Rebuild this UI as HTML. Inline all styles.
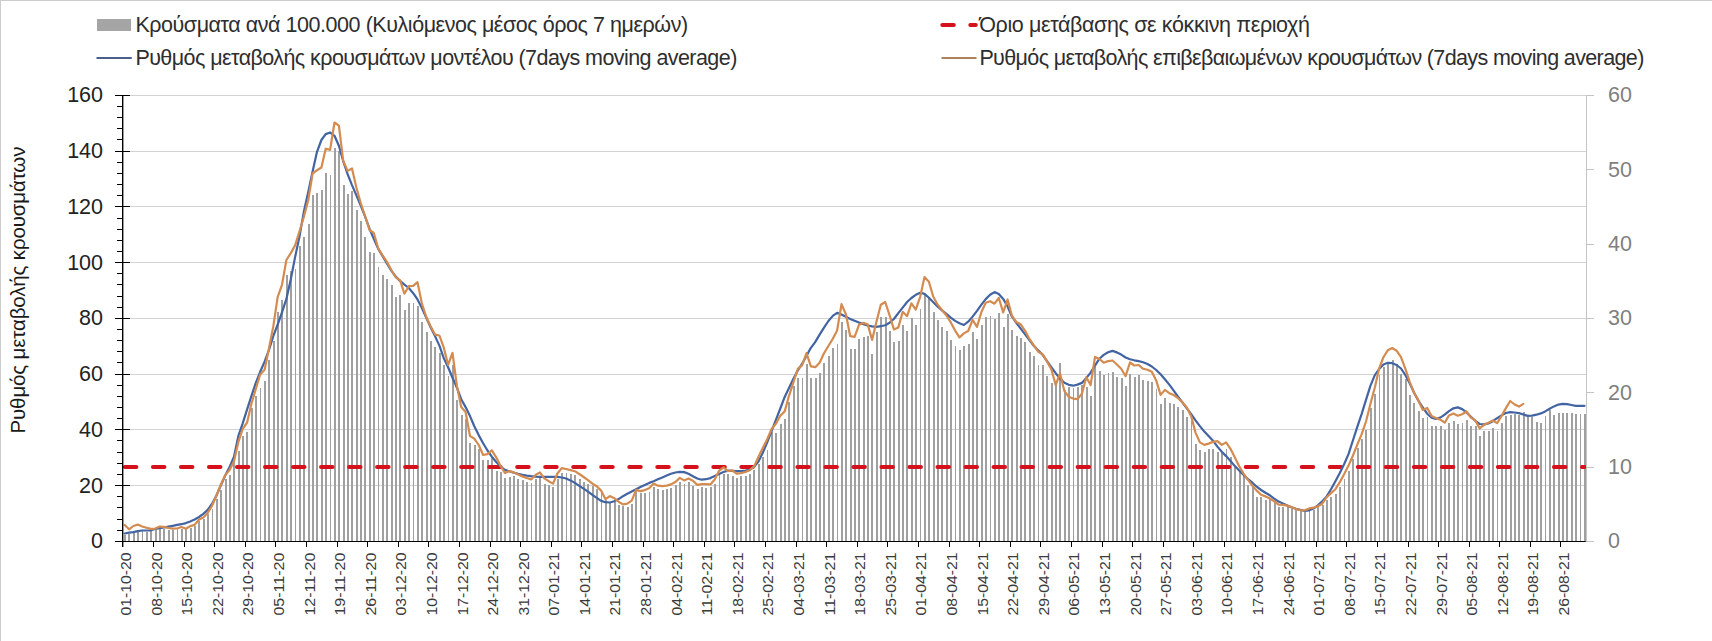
<!DOCTYPE html><html><head><meta charset="utf-8"><title>Chart</title><style>
html,body{margin:0;padding:0;background:#fff;width:1712px;height:641px;overflow:hidden}
svg{display:block}text{font-family:'Liberation Sans', 'DejaVu Sans', Arial, sans-serif}
</style></head><body>
<svg width="1712" height="641" viewBox="0 0 1712 641">
<rect x="0" y="0" width="1712" height="641" fill="#fff"/>
<rect x="0" y="0" width="1712" height="1" fill="#cccccc"/>
<rect x="0" y="0" width="1" height="641" fill="#cccccc"/>
<path d="M122.5 485.5H1586.4M122.5 429.5H1586.4M122.5 374.5H1586.4M122.5 318.5H1586.4M122.5 262.5H1586.4M122.5 206.5H1586.4M122.5 151.5H1586.4M122.5 95.5H1586.4" stroke="#d3d3d3" stroke-width="1" fill="none" shape-rendering="crispEdges"/>
<path d="M124 535H126V541H124zM128 534H130V541H128zM133 533H135V541H133zM137 531H139V541H137zM142 530H143V541H142zM146 532H148V541H146zM150 531H152V541H150zM155 530H157V541H155zM159 529H161V541H159zM163 529H165V541H163zM168 530H170V541H168zM172 530H174V541H172zM177 529H178V541H177zM181 529H183V541H181zM185 529H187V541H185zM190 528H192V541H190zM194 526H196V541H194zM198 521H200V541H198zM203 519H205V541H203zM207 514H209V541H207zM212 509H213V541H212zM216 499H218V541H216zM220 490H222V541H220zM225 479H227V541H225zM229 475H231V541H229zM233 462H235V541H233zM238 451H240V541H238zM242 436H244V541H242zM246 432H248V541H246zM251 408H253V541H251zM255 396H257V541H255zM260 388H261V541H260zM264 381H266V541H264zM268 360H270V541H268zM273 341H275V541H273zM277 312H279V541H277zM281 300H283V541H281zM286 275H288V541H286zM290 271H292V541H290zM295 269H296V541H295zM299 246H301V541H299zM303 237H305V541H303zM308 224H310V541H308zM312 195H314V541H312zM316 193H318V541H316zM321 190H323V541H321zM325 173H327V541H325zM330 175H331V541H330zM334 148H336V541H334zM338 151H340V541H338zM343 185H345V541H343zM347 194H349V541H347zM351 191H353V541H351zM356 210H358V541H356zM360 221H362V541H360zM364 237H366V541H364zM369 252H371V541H369zM373 253H375V541H373zM378 267H379V541H378zM382 275H384V541H382zM386 279H388V541H386zM391 285H393V541H391zM395 297H397V541H395zM399 295H401V541H399zM404 310H406V541H404zM408 303H410V541H408zM413 303H414V541H413zM417 306H419V541H417zM421 322H423V541H421zM426 332H428V541H426zM430 341H432V541H430zM434 347H436V541H434zM439 353H441V541H439zM443 365H445V541H443zM448 376H449V541H448zM452 365H454V541H452zM456 400H458V541H456zM461 415H463V541H461zM465 419H467V541H465zM469 443H471V541H469zM474 445H476V541H474zM478 449H480V541H478zM482 460H484V541H482zM487 460H489V541H487zM491 457H493V541H491zM496 471H498V541H496zM500 472H502V541H500zM504 478H506V541H504zM509 477H511V541H509zM513 476H515V541H513zM517 479H519V541H517zM522 480H524V541H522zM526 482H528V541H526zM531 483H532V541H531zM535 479H537V541H535zM539 477H541V541H539zM544 484H546V541H544zM548 485H550V541H548zM552 487H554V541H552zM557 479H559V541H557zM561 473H563V541H561zM566 473H567V541H566zM570 474H572V541H570zM574 475H576V541H574zM579 479H581V541H579zM583 482H585V541H583zM587 484H589V541H587zM592 486H594V541H592zM596 489H598V541H596zM601 491H602V541H601zM605 500H607V541H605zM609 502H611V541H609zM614 502H616V541H614zM618 505H620V541H618zM622 506H624V541H622zM627 507H629V541H627zM631 504H633V541H631zM635 491H637V541H635zM640 493H642V541H640zM644 493H646V541H644zM649 492H650V541H649zM653 487H655V541H653zM657 489H659V541H657zM662 490H664V541H662zM666 489H668V541H666zM670 488H672V541H670zM675 485H677V541H675zM679 482H681V541H679zM684 484H685V541H684zM688 482H690V541H688zM692 486H694V541H692zM697 489H699V541H697zM701 487H703V541H701zM705 488H707V541H705zM710 487H712V541H710zM714 484H716V541H714zM719 475H720V541H719zM723 474H725V541H723zM727 474H729V541H727zM732 476H734V541H732zM736 478H738V541H736zM740 476H742V541H740zM745 476H747V541H745zM749 474H751V541H749zM753 470H755V541H753zM758 464H760V541H758zM762 457H764V541H762zM767 450H768V541H767zM771 432H773V541H771zM775 433H777V541H775zM780 424H782V541H780zM784 419H786V541H784zM788 402H790V541H788zM793 386H795V541H793zM797 378H799V541H797zM802 378H803V541H802zM806 364H808V541H806zM810 378H812V541H810zM815 378H817V541H815zM819 373H821V541H819zM823 363H825V541H823zM828 356H830V541H828zM832 348H834V541H832zM837 344H838V541H837zM841 322H843V541H841zM845 330H847V541H845zM850 349H852V541H850zM854 349H856V541H854zM858 339H860V541H858zM863 337H865V541H863zM867 336H869V541H867zM871 354H873V541H871zM876 332H878V541H876zM880 317H882V541H880zM885 317H887V541H885zM889 331H891V541H889zM893 342H895V541H893zM898 341H900V541H898zM902 325H904V541H902zM906 331H908V541H906zM911 318H913V541H911zM915 325H917V541H915zM920 309H921V541H920zM924 295H926V541H924zM928 297H930V541H928zM933 312H935V541H933zM937 320H939V541H937zM941 327H943V541H941zM946 331H948V541H946zM950 340H952V541H950zM955 346H956V541H955zM959 350H961V541H959zM963 346H965V541H963zM968 344H970V541H968zM972 332H974V541H972zM976 339H978V541H976zM981 325H983V541H981zM985 317H987V541H985zM990 316H991V541H990zM994 319H996V541H994zM998 313H1000V541H998zM1003 327H1005V541H1003zM1007 314H1009V541H1007zM1011 330H1013V541H1011zM1016 336H1018V541H1016zM1020 338H1022V541H1020zM1024 342H1026V541H1024zM1029 352H1031V541H1029zM1033 356H1035V541H1033zM1038 365H1039V541H1038zM1042 365H1044V541H1042zM1046 376H1048V541H1046zM1051 383H1053V541H1051zM1055 384H1057V541H1055zM1059 363H1061V541H1059zM1064 390H1066V541H1064zM1068 387H1070V541H1068zM1073 388H1074V541H1073zM1077 387H1079V541H1077zM1081 385H1083V541H1081zM1086 387H1088V541H1086zM1090 396H1092V541H1090zM1094 367H1096V541H1094zM1099 371H1101V541H1099zM1103 375H1105V541H1103zM1108 373H1109V541H1108zM1112 372H1114V541H1112zM1116 377H1118V541H1116zM1121 378H1123V541H1121zM1125 386H1127V541H1125zM1129 374H1131V541H1129zM1134 377H1136V541H1134zM1138 375H1140V541H1138zM1142 380H1144V541H1142zM1147 381H1149V541H1147zM1151 382H1153V541H1151zM1156 389H1157V541H1156zM1160 404H1162V541H1160zM1164 398H1166V541H1164zM1169 403H1171V541H1169zM1173 404H1175V541H1173zM1177 407H1179V541H1177zM1182 410H1184V541H1182zM1186 417H1188V541H1186zM1191 421H1192V541H1191zM1195 444H1197V541H1195zM1199 450H1201V541H1199zM1204 452H1206V541H1204zM1208 449H1210V541H1208zM1212 449H1214V541H1212zM1217 452H1219V541H1217zM1221 452H1223V541H1221zM1226 449H1227V541H1226zM1230 457H1232V541H1230zM1234 466H1236V541H1234zM1239 470H1241V541H1239zM1243 475H1245V541H1243zM1247 485H1249V541H1247zM1252 487H1254V541H1252zM1256 497H1258V541H1256zM1260 497H1262V541H1260zM1265 500H1267V541H1265zM1269 499H1271V541H1269zM1274 502H1276V541H1274zM1278 507H1280V541H1278zM1282 507H1284V541H1282zM1287 506H1289V541H1287zM1291 509H1293V541H1291zM1295 510H1297V541H1295zM1300 510H1302V541H1300zM1304 511H1306V541H1304zM1309 511H1310V541H1309zM1313 510H1315V541H1313zM1317 507H1319V541H1317zM1322 505H1324V541H1322zM1326 500H1328V541H1326zM1330 497H1332V541H1330zM1335 494H1337V541H1335zM1339 487H1341V541H1339zM1344 479H1345V541H1344zM1348 471H1350V541H1348zM1352 459H1354V541H1352zM1357 448H1359V541H1357zM1361 439H1363V541H1361zM1365 430H1367V541H1365zM1370 408H1372V541H1370zM1374 394H1376V541H1374zM1379 375H1380V541H1379zM1383 367H1385V541H1383zM1387 362H1389V541H1387zM1392 360H1394V541H1392zM1396 364H1398V541H1396zM1400 374H1402V541H1400zM1405 379H1407V541H1405zM1409 395H1411V541H1409zM1413 403H1415V541H1413zM1418 411H1420V541H1418zM1422 418H1424V541H1422zM1427 417H1428V541H1427zM1431 426H1433V541H1431zM1435 426H1437V541H1435zM1440 426H1442V541H1440zM1444 430H1446V541H1444zM1448 423H1450V541H1448zM1453 421H1455V541H1453zM1457 424H1459V541H1457zM1462 423H1463V541H1462zM1466 420H1468V541H1466zM1470 426H1472V541H1470zM1475 426H1477V541H1475zM1479 436H1481V541H1479zM1483 431H1485V541H1483zM1488 431H1490V541H1488zM1492 428H1494V541H1492zM1497 431H1498V541H1497zM1501 423H1503V541H1501zM1505 416H1507V541H1505zM1510 415H1512V541H1510zM1514 414H1516V541H1514zM1518 415H1520V541H1518zM1523 412H1525V541H1523zM1527 417H1529V541H1527zM1531 417H1533V541H1531zM1536 422H1538V541H1536zM1540 423H1542V541H1540zM1545 416H1546V541H1545zM1549 410H1551V541H1549zM1553 415H1555V541H1553zM1558 413H1560V541H1558zM1562 413H1564V541H1562zM1566 413H1568V541H1566zM1571 413H1573V541H1571zM1575 414H1577V541H1575zM1580 414H1581V541H1580zM1584 414H1586V541H1584z" fill="#a0a0a0" shape-rendering="crispEdges"/>
<path d="M124.9 467.1H1584.6" stroke="#d5121b" stroke-width="4" stroke-dasharray="11.5 16.52" stroke-linecap="round" fill="none"/>
<polyline points="124.7,533.5 129.1,532.6 133.4,532.1 137.8,531.2 142.2,530.5 146.5,530.5 150.9,530.3 155.3,529 159.7,528.2 164,527.5 168.4,526.7 172.8,525.8 177.1,524.9 181.5,524.2 185.9,523.1 190.2,521.4 194.6,519.5 199,517 203.4,513.9 207.7,509.9 212.1,503.7 216.5,495.4 220.8,485.5 225.2,475.6 229.6,466.9 234,456.8 238.3,436.1 242.7,423.3 247.1,409.3 251.4,396.1 255.8,382.9 260.2,371.8 264.6,361.6 268.9,350.1 273.3,336.2 277.7,324.5 282,312.3 286.4,298.9 290.8,279.2 295.1,257.1 299.5,236.5 303.9,211.4 308.3,191.8 312.6,171.5 317,151.8 321.4,140 325.7,134.1 330.1,132.5 334.5,135.8 338.9,145.7 343.2,161.2 347.6,174.2 352,185.1 356.3,195.1 360.7,205.7 365.1,216.7 369.5,228.7 373.8,238.9 378.2,248.9 382.6,256.1 386.9,263.4 391.3,270.6 395.7,276.5 400,280.9 404.4,284.6 408.8,288 413.2,293.2 417.5,299.4 421.9,308.1 426.3,317.7 430.6,327.2 435,336.1 439.4,345.6 443.8,358.2 448.1,367.3 452.5,377.8 456.9,387.7 461.2,399.2 465.6,407.1 470,416.1 474.3,426.3 478.7,435.1 483.1,443.2 487.5,450.5 491.8,456.6 496.2,462 500.6,466.5 504.9,469.9 509.3,471.3 513.7,472.6 518.1,473.8 522.4,474.8 526.8,475.6 531.2,476.2 535.5,476.6 539.9,476.9 544.3,476.9 548.7,476.9 553,476.9 557.4,476.9 561.8,477.5 566.1,478.5 570.5,480.4 574.9,482.9 579.2,485.8 583.6,488.7 588,491.6 592.4,494.9 596.7,497.8 601.1,500.9 605.5,502.2 609.8,502.5 614.2,501.2 618.6,499.1 623,496.2 627.3,493.7 631.7,491.5 636.1,489.3 640.4,487.1 644.8,484.9 649.2,482.9 653.6,481.2 657.9,479.3 662.3,477.4 666.7,475.5 671,473.8 675.4,472.5 679.8,471.9 684.1,472.1 688.5,473.8 692.9,476.2 697.3,478.5 701.6,479.7 706,479.2 710.4,478.1 714.7,476 719.1,473.9 723.5,472 727.9,470.6 732.2,470.8 736.6,471.1 741,471.1 745.3,470.6 749.7,469.9 754.1,466.7 758.5,461.6 762.8,452.7 767.2,442.4 771.6,431.1 775.9,419.9 780.3,408.5 784.7,396.9 789,388 793.4,378.8 797.8,370.4 802.2,363.7 806.5,355.7 810.9,347.8 815.3,341.9 819.6,334.6 824,327.6 828.4,321 832.8,315.9 837.1,312.8 841.5,314.6 845.9,316.7 850.2,318.9 854.6,320.7 859,322.6 863.4,324.1 867.7,325.5 872.1,326.4 876.5,326.9 880.8,326.2 885.2,325.2 889.6,322.8 893.9,319 898.3,313.2 902.7,307.6 907.1,302 911.4,298 915.8,294.8 920.2,292.7 924.5,293.9 928.9,297.8 933.3,302.3 937.7,306.7 942,310.3 946.4,313.9 950.8,317.6 955.1,320.9 959.5,323.3 963.9,325 968.2,321.7 972.6,316.6 977,310.8 981.4,304.7 985.7,299.1 990.1,294.8 994.5,292.1 998.8,293.9 1003.2,298.9 1007.6,306.5 1012,316.7 1016.3,322.8 1020.7,328.7 1025.1,334.4 1029.4,340.1 1033.8,345.8 1038.2,350.4 1042.6,354.8 1046.9,360.9 1051.3,367.1 1055.7,373.2 1060,378.5 1064.4,382.8 1068.8,384.8 1073.1,385.7 1077.5,384.6 1081.9,382.9 1086.3,378.1 1090.6,372.6 1095,365.6 1099.4,358.7 1103.7,354.9 1108.1,352.3 1112.5,350.9 1116.9,352.4 1121.2,354.6 1125.6,357.5 1130,359.3 1134.3,360.3 1138.7,361.2 1143.1,362.2 1147.5,364 1151.8,366.5 1156.2,370 1160.6,374.3 1164.9,379.2 1169.3,384.6 1173.7,390.7 1178,396.6 1182.4,402.4 1186.8,408.3 1191.2,414.2 1195.5,420.3 1199.9,426.1 1204.3,431.6 1208.6,436.1 1213,440.7 1217.4,446.6 1221.8,451.8 1226.1,456.1 1230.5,461 1234.9,466.1 1239.2,470.5 1243.6,474.9 1248,479.2 1252.4,482.7 1256.7,486.7 1261.1,490 1265.5,492.8 1269.8,495.3 1274.2,498.6 1278.6,501.6 1282.9,503.5 1287.3,505.5 1291.7,507.5 1296.1,508.8 1300.4,509.9 1304.8,510.8 1309.2,510.3 1313.5,508.5 1317.9,505.4 1322.3,501.2 1326.7,496.4 1331,489.3 1335.4,481.3 1339.8,473.1 1344.1,464.2 1348.5,454.1 1352.9,440.5 1357.3,426.9 1361.6,414.1 1366,399.9 1370.4,385.8 1374.7,375.4 1379.1,369 1383.5,364.5 1387.8,362.8 1392.2,363.2 1396.6,365 1401,368.5 1405.3,375 1409.7,383.3 1414.1,392.8 1418.4,400.6 1422.8,407.5 1427.2,413.7 1431.6,417.7 1435.9,419 1440.3,417.6 1444.7,414.7 1449,411.1 1453.4,408.3 1457.8,407.4 1462.2,409.1 1466.5,412.4 1470.9,416.7 1475.3,420.8 1479.6,424 1484,424.4 1488.4,423.4 1492.7,421.2 1497.1,418.2 1501.5,415.4 1505.9,413 1510.2,412.1 1514.6,412.5 1519,413.1 1523.3,414.5 1527.7,415.9 1532.1,415.6 1536.5,414.7 1540.8,413.4 1545.2,411.4 1549.6,408.7 1553.9,406.4 1558.3,404.6 1562.7,403.8 1567,404.1 1571.4,405 1575.8,405.8 1580.2,405.8 1584.5,405.8" fill="none" stroke="#4364a2" stroke-width="2.2" stroke-linejoin="round" stroke-linecap="round"/>
<polyline points="124.7,525 129.1,529.3 133.4,526 137.8,524.6 142.2,526.5 146.5,527.7 150.9,528.9 155.3,528.6 159.7,526.6 164,526.9 168.4,528 172.8,528.7 177.1,528.5 181.5,527 185.9,528.7 190.2,526.1 194.6,524.9 199,519.5 203.4,517.4 207.7,513 212.1,505.7 216.5,495.2 220.8,484.8 225.2,475.1 229.6,470 234,461.2 238.3,442.2 242.7,428.8 247.1,422.5 251.4,403.7 255.8,389 260.2,374.5 264.6,369.8 268.9,348.8 273.3,326.4 277.7,296.8 282,284.8 286.4,260 290.8,253.1 295.1,245.4 299.5,231.4 303.9,216.7 308.3,199.7 312.6,173.5 317,170.2 321.4,167.5 325.7,148.7 330.1,149.9 334.5,122.5 338.9,125.6 343.2,160.8 347.6,170.9 352,168.5 356.3,187.2 360.7,203 365.1,216 369.5,230 373.8,233 378.2,248.3 382.6,255.4 386.9,261.9 391.3,270 395.7,277.3 400,280.2 404.4,293.7 408.8,286.2 413.2,285.8 417.5,282.2 421.9,303.6 426.3,317 430.6,326.2 435,334.6 439.4,335.5 443.8,347.7 448.1,364.8 452.5,352.9 456.9,386 461.2,407 465.6,412 470,436 474.3,438.6 478.7,445 483.1,455 487.5,454.2 491.8,450.3 496.2,457.3 500.6,466 504.9,472.9 509.3,471.1 513.7,472.4 518.1,474.4 522.4,476.4 526.8,478 531.2,479.4 535.5,475 539.9,472.4 544.3,478.3 548.7,481.2 553,483.6 557.4,473.5 561.8,468.1 566.1,469 570.5,470.1 574.9,471.2 579.2,474 583.6,477 588,480.2 592.4,483.7 596.7,486.3 601.1,490.6 605.5,499.2 609.8,496.1 614.2,498.2 618.6,501.7 623,504.4 627.3,503.6 631.7,500.7 636.1,489.9 640.4,491.1 644.8,490.1 649.2,488.3 653.6,483.6 657.9,485.7 662.3,486.1 666.7,485.6 671,484.4 675.4,482 679.8,477.9 684.1,480.4 688.5,478.6 692.9,480.8 697.3,484.9 701.6,484.1 706,484.2 710.4,484.4 714.7,479.5 719.1,470.8 723.5,467.4 727.9,471.1 732.2,470.4 736.6,473.6 741,473.1 745.3,472 749.7,470.3 754.1,466.4 758.5,456.8 762.8,447.9 767.2,439.2 771.6,429 775.9,423.8 780.3,415.8 784.7,411.4 789,395.8 793.4,382.3 797.8,368.9 802.2,365.2 806.5,353.1 810.9,366.4 815.3,367.2 819.6,362.8 824,353.2 828.4,346 832.8,338.7 837.1,330.5 841.5,304.2 845.9,314.2 850.2,336.2 854.6,336.9 859,324.8 863.4,322.9 867.7,324.4 872.1,339.9 876.5,321.5 880.8,304.8 885.2,302 889.6,315.3 893.9,329.4 898.3,327.6 902.7,311.8 907.1,316.2 911.4,303.3 915.8,309.5 920.2,296.8 924.5,277 928.9,281.8 933.3,296.8 937.7,304.7 942,310 946.4,315.5 950.8,322.4 955.1,330.6 959.5,337.4 963.9,333.4 968.2,331 972.6,319.9 977,326.9 981.4,312 985.7,302.8 990.1,301.2 994.5,303.7 998.8,298 1003.2,312.4 1007.6,299.5 1012,316 1016.3,322 1020.7,324.3 1025.1,330.8 1029.4,338.9 1033.8,345.3 1038.2,351.7 1042.6,354.1 1046.9,361.4 1051.3,369.3 1055.7,385 1060,373.3 1064.4,391.1 1068.8,396.8 1073.1,398.6 1077.5,399.1 1081.9,393.8 1086.3,377.2 1090.6,385 1095,356.9 1099.4,359 1103.7,362.7 1108.1,361.1 1112.5,360.5 1116.9,364.5 1121.2,368.7 1125.6,376.2 1130,362.5 1134.3,365.5 1138.7,365 1143.1,368.8 1147.5,369.8 1151.8,371.8 1156.2,380.4 1160.6,394.9 1164.9,389.9 1169.3,393.2 1173.7,395 1178,398.2 1182.4,402.4 1186.8,407.4 1191.2,416.2 1195.5,432.6 1199.9,442.4 1204.3,444.9 1208.6,443.6 1213,441.9 1217.4,441.1 1221.8,444.9 1226.1,442.4 1230.5,448.8 1234.9,457.4 1239.2,466.2 1243.6,473.6 1248,479.9 1252.4,485.8 1256.7,490.6 1261.1,494.8 1265.5,496.4 1269.8,498.5 1274.2,501.2 1278.6,504.7 1282.9,504.9 1287.3,505.6 1291.7,507.1 1296.1,509.2 1300.4,510.1 1304.8,510.3 1309.2,508.4 1313.5,507.7 1317.9,506.3 1322.3,503.7 1326.7,497.2 1331,493.1 1335.4,489.2 1339.8,482.2 1344.1,474.2 1348.5,465.6 1352.9,455.7 1357.3,444.6 1361.6,434.4 1366,421.5 1370.4,404 1374.7,388 1379.1,368.7 1383.5,357 1387.8,350.3 1392.2,348 1396.6,350.7 1401,357.1 1405.3,368.7 1409.7,381.8 1414.1,392.8 1418.4,400.8 1422.8,409.9 1427.2,407.9 1431.6,416.1 1435.9,418.1 1440.3,419.6 1444.7,422.7 1449,415.4 1453.4,413.5 1457.8,415.7 1462.2,414.2 1466.5,411.5 1470.9,417.6 1475.3,420.4 1479.6,428.3 1484,424.8 1488.4,422.7 1492.7,420.5 1497.1,423.1 1501.5,416.1 1505.9,408.1 1510.2,401 1514.6,404.5 1519,406.6 1523.3,403.9" fill="none" stroke="#d48b50" stroke-width="2.2" stroke-linejoin="round" stroke-linecap="round"/>
<path d="M122.7 94.9V547" stroke="#000" stroke-width="1.4" fill="none"/>
<path d="M122 541.5H1585.8" stroke="#000" stroke-width="1.2" fill="none"/>
<path d="M115 541.5H130M117 530.5H122M117 519.5H122M117 507.5H122M117 496.5H122M115 485.5H130M117 474.5H122M117 463.5H122M117 452.5H122M117 440.5H122M115 429.5H130M117 418.5H122M117 407.5H122M117 396.5H122M117 385.5H122M115 374.5H130M117 362.5H122M117 351.5H122M117 340.5H122M117 329.5H122M115 318.5H130M117 307.5H122M117 296.5H122M117 284.5H122M117 273.5H122M115 262.5H130M117 251.5H122M117 240.5H122M117 229.5H122M117 218.5H122M115 206.5H130M117 195.5H122M117 184.5H122M117 173.5H122M117 162.5H122M115 151.5H130M117 139.5H122M117 128.5H122M117 117.5H122M117 106.5H122M115 95.5H130" stroke="#000" stroke-width="1" fill="none" shape-rendering="crispEdges"/>
<path d="M153.5 541V547M184.5 541V547M214.5 541V547M245.5 541V547M275.5 541V547M306.5 541V547M337.5 541V547M367.5 541V547M398.5 541V547M428.5 541V547M459.5 541V547M490.5 541V547M520.5 541V547M551.5 541V547M581.5 541V547M612.5 541V547M643.5 541V547M673.5 541V547M704.5 541V547M734.5 541V547M765.5 541V547M796.5 541V547M826.5 541V547M857.5 541V547M887.5 541V547M918.5 541V547M949.5 541V547M979.5 541V547M1010.5 541V547M1040.5 541V547M1071.5 541V547M1102.5 541V547M1132.5 541V547M1163.5 541V547M1193.5 541V547M1224.5 541V547M1255.5 541V547M1285.5 541V547M1316.5 541V547M1346.5 541V547M1377.5 541V547M1408.5 541V547M1438.5 541V547M1469.5 541V547M1499.5 541V547M1530.5 541V547M1560.5 541V547" stroke="#000" stroke-width="1.1" fill="none" shape-rendering="crispEdges"/>
<path d="M1586.5 95V541" stroke="#c4c4c4" stroke-width="1" fill="none" shape-rendering="crispEdges"/>
<path d="M1586 541.5H1594M1586 467.5H1594M1586 392.5H1594M1586 318.5H1594M1586 244.5H1594M1586 169.5H1594M1586 95.5H1594" stroke="#c4c4c4" stroke-width="1" fill="none" shape-rendering="crispEdges"/>
<text x="103" y="548.4" font-size="21.5" fill="#222" text-anchor="end">0</text>
<text x="103" y="492.6" font-size="21.5" fill="#222" text-anchor="end">20</text>
<text x="103" y="436.9" font-size="21.5" fill="#222" text-anchor="end">40</text>
<text x="103" y="381.1" font-size="21.5" fill="#222" text-anchor="end">60</text>
<text x="103" y="325.3" font-size="21.5" fill="#222" text-anchor="end">80</text>
<text x="103" y="269.6" font-size="21.5" fill="#222" text-anchor="end">100</text>
<text x="103" y="213.8" font-size="21.5" fill="#222" text-anchor="end">120</text>
<text x="103" y="158.1" font-size="21.5" fill="#222" text-anchor="end">140</text>
<text x="103" y="102.3" font-size="21.5" fill="#222" text-anchor="end">160</text>
<text x="1608" y="548.4" font-size="21.5" fill="#7f7f7f">0</text>
<text x="1608" y="474" font-size="21.5" fill="#7f7f7f">10</text>
<text x="1608" y="399.7" font-size="21.5" fill="#7f7f7f">20</text>
<text x="1608" y="325.3" font-size="21.5" fill="#7f7f7f">30</text>
<text x="1608" y="251" font-size="21.5" fill="#7f7f7f">40</text>
<text x="1608" y="176.7" font-size="21.5" fill="#7f7f7f">50</text>
<text x="1608" y="102.3" font-size="21.5" fill="#7f7f7f">60</text>
<text transform="translate(24.6 290) rotate(-90)" font-size="20.5" fill="#1a1a1a" text-anchor="middle" textLength="287" lengthAdjust="spacing">Ρυθμός μεταβολής κρουσμάτων</text>
<text transform="translate(130.9 552.6) rotate(-90)" font-size="15.5" fill="#3a3a3a" text-anchor="end" textLength="63" lengthAdjust="spacingAndGlyphs">01-10-20</text>
<text transform="translate(161.5 552.6) rotate(-90)" font-size="15.5" fill="#3a3a3a" text-anchor="end" textLength="63" lengthAdjust="spacingAndGlyphs">08-10-20</text>
<text transform="translate(192.1 552.6) rotate(-90)" font-size="15.5" fill="#3a3a3a" text-anchor="end" textLength="63" lengthAdjust="spacingAndGlyphs">15-10-20</text>
<text transform="translate(222.7 552.6) rotate(-90)" font-size="15.5" fill="#3a3a3a" text-anchor="end" textLength="63" lengthAdjust="spacingAndGlyphs">22-10-20</text>
<text transform="translate(253.3 552.6) rotate(-90)" font-size="15.5" fill="#3a3a3a" text-anchor="end" textLength="63" lengthAdjust="spacingAndGlyphs">29-10-20</text>
<text transform="translate(283.9 552.6) rotate(-90)" font-size="15.5" fill="#3a3a3a" text-anchor="end" textLength="63" lengthAdjust="spacingAndGlyphs">05-11-20</text>
<text transform="translate(314.5 552.6) rotate(-90)" font-size="15.5" fill="#3a3a3a" text-anchor="end" textLength="63" lengthAdjust="spacingAndGlyphs">12-11-20</text>
<text transform="translate(345.1 552.6) rotate(-90)" font-size="15.5" fill="#3a3a3a" text-anchor="end" textLength="63" lengthAdjust="spacingAndGlyphs">19-11-20</text>
<text transform="translate(375.7 552.6) rotate(-90)" font-size="15.5" fill="#3a3a3a" text-anchor="end" textLength="63" lengthAdjust="spacingAndGlyphs">26-11-20</text>
<text transform="translate(406.3 552.6) rotate(-90)" font-size="15.5" fill="#3a3a3a" text-anchor="end" textLength="63" lengthAdjust="spacingAndGlyphs">03-12-20</text>
<text transform="translate(436.9 552.6) rotate(-90)" font-size="15.5" fill="#3a3a3a" text-anchor="end" textLength="63" lengthAdjust="spacingAndGlyphs">10-12-20</text>
<text transform="translate(467.5 552.6) rotate(-90)" font-size="15.5" fill="#3a3a3a" text-anchor="end" textLength="63" lengthAdjust="spacingAndGlyphs">17-12-20</text>
<text transform="translate(498 552.6) rotate(-90)" font-size="15.5" fill="#3a3a3a" text-anchor="end" textLength="63" lengthAdjust="spacingAndGlyphs">24-12-20</text>
<text transform="translate(528.6 552.6) rotate(-90)" font-size="15.5" fill="#3a3a3a" text-anchor="end" textLength="63" lengthAdjust="spacingAndGlyphs">31-12-20</text>
<text transform="translate(559.2 552.6) rotate(-90)" font-size="15.5" fill="#3a3a3a" text-anchor="end" textLength="63" lengthAdjust="spacingAndGlyphs">07-01-21</text>
<text transform="translate(589.8 552.6) rotate(-90)" font-size="15.5" fill="#3a3a3a" text-anchor="end" textLength="63" lengthAdjust="spacingAndGlyphs">14-01-21</text>
<text transform="translate(620.4 552.6) rotate(-90)" font-size="15.5" fill="#3a3a3a" text-anchor="end" textLength="63" lengthAdjust="spacingAndGlyphs">21-01-21</text>
<text transform="translate(651 552.6) rotate(-90)" font-size="15.5" fill="#3a3a3a" text-anchor="end" textLength="63" lengthAdjust="spacingAndGlyphs">28-01-21</text>
<text transform="translate(681.6 552.6) rotate(-90)" font-size="15.5" fill="#3a3a3a" text-anchor="end" textLength="63" lengthAdjust="spacingAndGlyphs">04-02-21</text>
<text transform="translate(712.2 552.6) rotate(-90)" font-size="15.5" fill="#3a3a3a" text-anchor="end" textLength="63" lengthAdjust="spacingAndGlyphs">11-02-21</text>
<text transform="translate(742.8 552.6) rotate(-90)" font-size="15.5" fill="#3a3a3a" text-anchor="end" textLength="63" lengthAdjust="spacingAndGlyphs">18-02-21</text>
<text transform="translate(773.4 552.6) rotate(-90)" font-size="15.5" fill="#3a3a3a" text-anchor="end" textLength="63" lengthAdjust="spacingAndGlyphs">25-02-21</text>
<text transform="translate(804 552.6) rotate(-90)" font-size="15.5" fill="#3a3a3a" text-anchor="end" textLength="63" lengthAdjust="spacingAndGlyphs">04-03-21</text>
<text transform="translate(834.6 552.6) rotate(-90)" font-size="15.5" fill="#3a3a3a" text-anchor="end" textLength="63" lengthAdjust="spacingAndGlyphs">11-03-21</text>
<text transform="translate(865.2 552.6) rotate(-90)" font-size="15.5" fill="#3a3a3a" text-anchor="end" textLength="63" lengthAdjust="spacingAndGlyphs">18-03-21</text>
<text transform="translate(895.8 552.6) rotate(-90)" font-size="15.5" fill="#3a3a3a" text-anchor="end" textLength="63" lengthAdjust="spacingAndGlyphs">25-03-21</text>
<text transform="translate(926.4 552.6) rotate(-90)" font-size="15.5" fill="#3a3a3a" text-anchor="end" textLength="63" lengthAdjust="spacingAndGlyphs">01-04-21</text>
<text transform="translate(957 552.6) rotate(-90)" font-size="15.5" fill="#3a3a3a" text-anchor="end" textLength="63" lengthAdjust="spacingAndGlyphs">08-04-21</text>
<text transform="translate(987.6 552.6) rotate(-90)" font-size="15.5" fill="#3a3a3a" text-anchor="end" textLength="63" lengthAdjust="spacingAndGlyphs">15-04-21</text>
<text transform="translate(1018.2 552.6) rotate(-90)" font-size="15.5" fill="#3a3a3a" text-anchor="end" textLength="63" lengthAdjust="spacingAndGlyphs">22-04-21</text>
<text transform="translate(1048.8 552.6) rotate(-90)" font-size="15.5" fill="#3a3a3a" text-anchor="end" textLength="63" lengthAdjust="spacingAndGlyphs">29-04-21</text>
<text transform="translate(1079.4 552.6) rotate(-90)" font-size="15.5" fill="#3a3a3a" text-anchor="end" textLength="63" lengthAdjust="spacingAndGlyphs">06-05-21</text>
<text transform="translate(1110 552.6) rotate(-90)" font-size="15.5" fill="#3a3a3a" text-anchor="end" textLength="63" lengthAdjust="spacingAndGlyphs">13-05-21</text>
<text transform="translate(1140.6 552.6) rotate(-90)" font-size="15.5" fill="#3a3a3a" text-anchor="end" textLength="63" lengthAdjust="spacingAndGlyphs">20-05-21</text>
<text transform="translate(1171.2 552.6) rotate(-90)" font-size="15.5" fill="#3a3a3a" text-anchor="end" textLength="63" lengthAdjust="spacingAndGlyphs">27-05-21</text>
<text transform="translate(1201.7 552.6) rotate(-90)" font-size="15.5" fill="#3a3a3a" text-anchor="end" textLength="63" lengthAdjust="spacingAndGlyphs">03-06-21</text>
<text transform="translate(1232.3 552.6) rotate(-90)" font-size="15.5" fill="#3a3a3a" text-anchor="end" textLength="63" lengthAdjust="spacingAndGlyphs">10-06-21</text>
<text transform="translate(1262.9 552.6) rotate(-90)" font-size="15.5" fill="#3a3a3a" text-anchor="end" textLength="63" lengthAdjust="spacingAndGlyphs">17-06-21</text>
<text transform="translate(1293.5 552.6) rotate(-90)" font-size="15.5" fill="#3a3a3a" text-anchor="end" textLength="63" lengthAdjust="spacingAndGlyphs">24-06-21</text>
<text transform="translate(1324.1 552.6) rotate(-90)" font-size="15.5" fill="#3a3a3a" text-anchor="end" textLength="63" lengthAdjust="spacingAndGlyphs">01-07-21</text>
<text transform="translate(1354.7 552.6) rotate(-90)" font-size="15.5" fill="#3a3a3a" text-anchor="end" textLength="63" lengthAdjust="spacingAndGlyphs">08-07-21</text>
<text transform="translate(1385.3 552.6) rotate(-90)" font-size="15.5" fill="#3a3a3a" text-anchor="end" textLength="63" lengthAdjust="spacingAndGlyphs">15-07-21</text>
<text transform="translate(1415.9 552.6) rotate(-90)" font-size="15.5" fill="#3a3a3a" text-anchor="end" textLength="63" lengthAdjust="spacingAndGlyphs">22-07-21</text>
<text transform="translate(1446.5 552.6) rotate(-90)" font-size="15.5" fill="#3a3a3a" text-anchor="end" textLength="63" lengthAdjust="spacingAndGlyphs">29-07-21</text>
<text transform="translate(1477.1 552.6) rotate(-90)" font-size="15.5" fill="#3a3a3a" text-anchor="end" textLength="63" lengthAdjust="spacingAndGlyphs">05-08-21</text>
<text transform="translate(1507.7 552.6) rotate(-90)" font-size="15.5" fill="#3a3a3a" text-anchor="end" textLength="63" lengthAdjust="spacingAndGlyphs">12-08-21</text>
<text transform="translate(1538.3 552.6) rotate(-90)" font-size="15.5" fill="#3a3a3a" text-anchor="end" textLength="63" lengthAdjust="spacingAndGlyphs">19-08-21</text>
<text transform="translate(1568.9 552.6) rotate(-90)" font-size="15.5" fill="#3a3a3a" text-anchor="end" textLength="63" lengthAdjust="spacingAndGlyphs">26-08-21</text>
<rect x="97" y="19" width="34" height="12" fill="#a5a5a5"/>
<text x="135.4" y="31.7" font-size="21.5" fill="#2e2e2e" textLength="552.7" lengthAdjust="spacing">Κρούσματα ανά 100.000 (Κυλιόμενος μέσος όρος 7 ημερών)</text>
<path d="M96.5 58H131.8" stroke="#4a5f8c" stroke-width="2.2"/>
<text x="135.4" y="64.5" font-size="21.5" fill="#2e2e2e" textLength="601.9" lengthAdjust="spacing">Ρυθμός μεταβολής κρουσμάτων μοντέλου (7days moving average)</text>
<path d="M942.3 24.95H975.8" stroke="#d5121b" stroke-width="4" stroke-dasharray="11.5 16.5" stroke-linecap="round" fill="none"/>
<text x="979.3" y="31.7" font-size="21.5" fill="#2e2e2e" textLength="330.7" lengthAdjust="spacing">Όριο μετάβασης σε κόκκινη περιοχή</text>
<path d="M941.5 58H976.5" stroke="#b07f5c" stroke-width="2.2"/>
<text x="979.4" y="64.5" font-size="21.5" fill="#2e2e2e" textLength="664.9" lengthAdjust="spacing">Ρυθμός μεταβολής επιβεβαιωμένων κρουσμάτων (7days moving average)</text>
</svg></body></html>
